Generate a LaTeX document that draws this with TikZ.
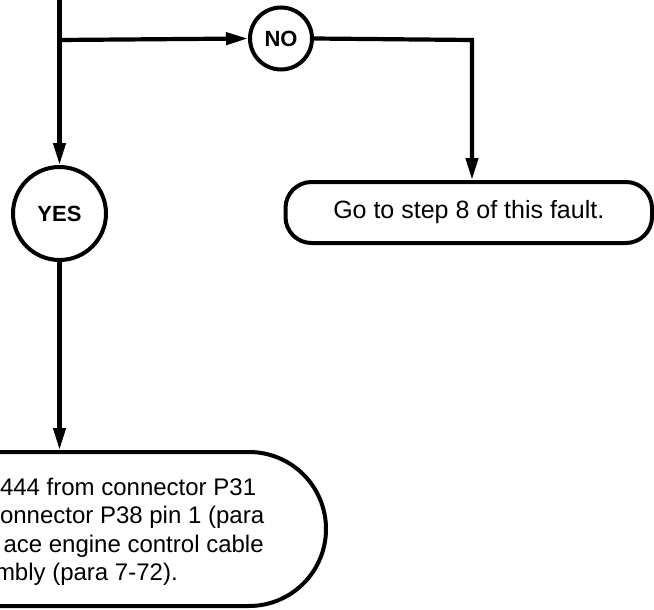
\documentclass[tikz,border=0pt]{standalone}
\usepackage{fontspec}
\setmainfont{Liberation Sans}
\usetikzlibrary{arrows.meta}
\begin{document}
\begin{tikzpicture}[x=1pt,y=-1pt,line width=4pt,
  flow/.style={line width=4.2pt},
  tip/.style={-{Triangle[length=22pt,width=12pt]}},
  decision/.style={circle,draw,line width=4pt,inner sep=0pt,font=\fontsize{22}{26}\selectfont\bfseries},
  actbox/.style={draw,line width=4pt,inner sep=0pt,font=\fontsize{25}{29}\selectfont},
  linetext/.style={anchor=base west,inner sep=0pt,font=\fontsize{24}{28}\selectfont}]
\useasboundingbox (0,0) rectangle (654,610);
\clip (0,0) rectangle (654,610);
% nodes
\coordinate (top) at (59.5,-10);
\coordinate (j) at (59.5,40);
\node[decision,minimum size=62pt] (no) at (281,38.5) {NO};
\node[decision,minimum size=93pt] (yes) at (59.5,213.5) {YES};
\node[actbox,rounded corners=26pt,minimum width=366.5pt,minimum height=61pt] (go) at (468.75,212.5) {Go to step 8 of this fault.};
\node[actbox,rounded corners=77pt,minimum width=526pt,minimum height=154pt] (act) at (63,529) {};
\node[linetext] (l1) at (-2,495) {444 from connector P31};
\node[linetext] (l2) at (-2,523.5) {onnector P38 pin 1 (para};
\node[linetext] (l3) at (1.5,552) {ace engine control cable};
\node[linetext] (l4) at (-7,580.5) {mbly (para 7-72).};
\coordinate (c1) at (472,40);
% connectors
\draw[flow] (top) -- (j);
\draw[flow,tip] (j) -- (no.west);
\draw[flow,tip] (j) -- (yes.north);
\draw[flow,tip] (no.east) -- (c1) -- (c1 |- go.north);
\draw[flow,tip] (yes.south) -- (yes.south |- act.north);
\end{tikzpicture}
\end{document}
